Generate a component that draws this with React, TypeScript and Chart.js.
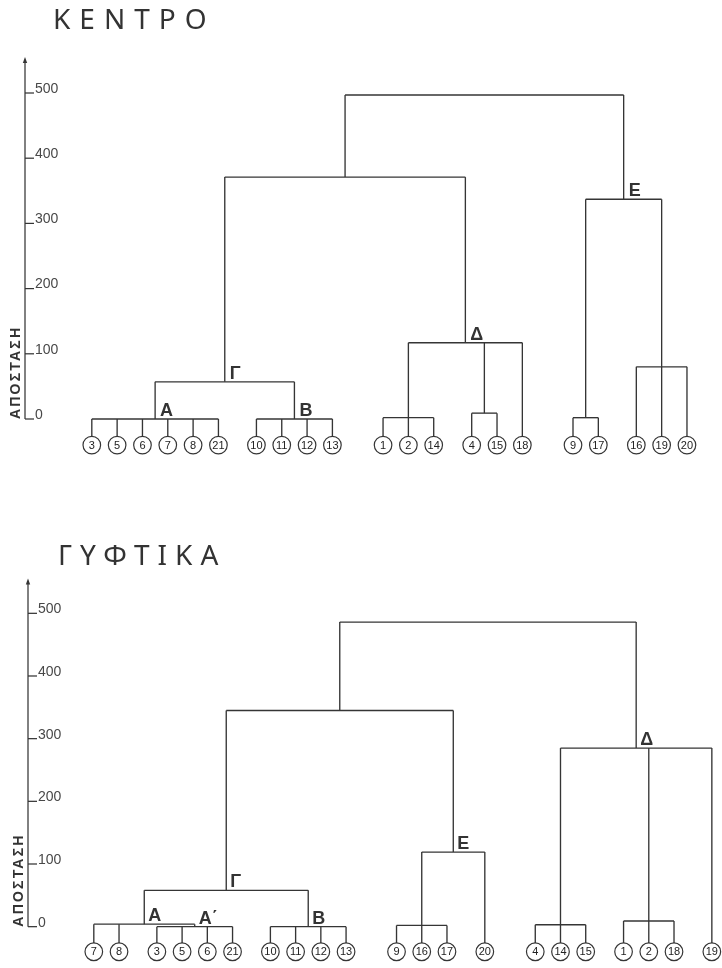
import React, { useEffect, useRef } from "react";
import { Chart, registerables } from "chart.js";

Chart.register(...registerables);

// ---------- data ----------
const Y_TICKS: number[] = [0, 100, 200, 300, 400, 500];
const AXIS_LABEL = "ΑΠΟΣΤΑΣΗ";

type Kid = number | string;

// ΚΕΝΤΡΟ
const KENTRO_TITLE = "ΚΕΝΤΡΟ";
const KENTRO_LEAVES: number[][][] = [
  [[3, 5, 6, 7, 8, 21], [10, 11, 12, 13]],
  [[1, 2, 14], [4, 15, 18]],
  [[9, 17], [16, 19, 20]],
];
const KENTRO_NODES: string[] = ["A", "B", "G", "D1", "D2", "D", "E1", "E2", "E", "GD", "ROOT"];
const KENTRO_LABELS: string[] = ["Α", "Β", "Γ", "", "", "Δ", "", "", "Ε", "", ""];
const KENTRO_HEIGHTS: number[] = [0, 0, 57, 2, 9, 117, 2, 80, 337, 371, 497];
const KENTRO_CHILDREN: Kid[][] = [
  [3, 5, 6, 7, 8, 21],
  [10, 11, 12, 13],
  ["A", "B"],
  [1, 2, 14],
  [4, 15],
  ["D1", "D2", 18],
  [9, 17],
  [16, 19, 20],
  ["E1", "E2"],
  ["G", "D"],
  ["GD", "E"],
];

// ΓΥΦΤΙΚΑ
const GYFTIKA_TITLE = "ΓΥΦΤΙΚΑ";
const GYFTIKA_LEAVES: number[][][] = [
  [[7, 8], [3, 5, 6, 21], [10, 11, 12, 13]],
  [[9, 16, 17], [20]],
  [[4, 14, 15], [1, 2, 18], [19]],
];
const GYFTIKA_NODES: string[] = ["A1", "A", "B", "G", "E1", "E", "GE", "D1", "D2", "D", "ROOT"];
const GYFTIKA_LABELS: string[] = ["Α΄", "Α", "Β", "Γ", "", "Ε", "", "", "", "Δ", ""];
const GYFTIKA_HEIGHTS: number[] = [0, 4, 0, 58, 2, 119, 345, 3, 9, 285, 486];
const GYFTIKA_CHILDREN: Kid[][] = [
  [3, 5, 6, 21],
  [7, 8, "A1"],
  [10, 11, 12, 13],
  ["A", "B"],
  [9, 16, 17],
  ["E1", 20],
  ["G", "E"],
  [4, 14, 15],
  [1, 2, 18],
  ["D1", "D2", 19],
  ["GE", "D"],
];

// ---------- layout (not data) ----------
const Y_MIN = -50;
const Y_MAX = 560;
const ARROW_TOP = 549;
const LEAF_Y = -40;
const LEAF_TOP = -27;
const GROUP_GAP = 0.5;
const CLUSTER_GAP = 1;
const PAD_RIGHT = 8;
const W = 722;
const LINE = "#353535";

interface Layout {
  canvasTop: number;
  canvasHeight: number;
  axisX: number;
  zeroY: number;
  pxPer100: number;
  leaf0X: number;
  leafStep: number;
  titleLeft: number;
  titleTop: number;
  letterSpacing: number;
  labelDx: number;
}

const KENTRO_LAYOUT: Layout = {
  canvasTop: 0, canvasHeight: 472, axisX: 25, zeroY: 419, pxPer100: 65.2,
  leaf0X: 92, leafStep: 25.4, titleLeft: 53, titleTop: 4, letterSpacing: 9, labelDx: 5,
};
const GYFTIKA_LAYOUT: Layout = {
  canvasTop: 476, canvasHeight: 492, axisX: 28, zeroY: 933, pxPer100: 63.8,
  leaf0X: 94, leafStep: 25.3, titleLeft: 58, titleTop: 540, letterSpacing: 8, labelDx: 4,
};

function makeChart(
  canvas: HTMLCanvasElement,
  L: Layout,
  leaves: number[][][],
  nodes: string[],
  labels: string[],
  heights: number[],
  children: Kid[][]
) {
  const leafX = new Map<number, number>();
  const leafOrder: number[] = [];
  let u = 0;
  let started = false;
  leaves.forEach((cluster) => {
    cluster.forEach((group, gi) => {
      group.forEach((leaf, li) => {
        if (started) {
          if (li === 0) u += 1 + (gi === 0 ? CLUSTER_GAP : GROUP_GAP);
          else u += 1;
        }
        started = true;
        leafX.set(leaf, u);
        leafOrder.push(leaf);
      });
    });
  });

  const idx = new Map<string, number>(nodes.map((n, i) => [n, i]));
  const nodeXCache = new Map<string, number>();
  const posOf = (k: Kid): { x: number; y: number } => {
    if (typeof k === "number") return { x: leafX.get(k) as number, y: LEAF_TOP };
    return { x: nodeX(k), y: heights[idx.get(k) as number] };
  };
  function nodeX(name: string): number {
    if (nodeXCache.has(name)) return nodeXCache.get(name) as number;
    const i = idx.get(name) as number;
    const xs = children[i].map((c) => posOf(c).x);
    const v = (Math.min(...xs) + Math.max(...xs)) / 2;
    nodeXCache.set(name, v);
    return v;
  }

  const segDatasets: any[] = [];
  const seg = (pts: { x: number; y: number }[]) =>
    segDatasets.push({
      data: pts,
      showLine: true,
      borderColor: LINE,
      borderWidth: 1.35,
      pointRadius: 0,
      fill: false,
      clip: false,
    });

  nodes.forEach((n, i) => {
    const h = heights[i];
    const kids = children[i].map(posOf);
    const xs = kids.map((k) => k.x);
    seg([{ x: Math.min(...xs), y: h }, { x: Math.max(...xs), y: h }]);
    kids.forEach((k) => {
      if (k.y !== h) seg([{ x: k.x, y: k.y }, { x: k.x, y: h }]);
    });
  });

  const leafDataset = {
    data: leafOrder.map((l) => ({ x: leafX.get(l) as number, y: LEAF_Y })),
    showLine: false,
    pointRadius: 8.8,
    pointBackgroundColor: "#ffffff",
    pointBorderColor: LINE,
    pointBorderWidth: 1.2,
    clip: false,
  };

  const ppu = L.pxPer100 / 100;
  const yTopPx = L.zeroY - Y_MAX * ppu;
  const yBotPx = L.zeroY - Y_MIN * ppu;
  const padTop = yTopPx - L.canvasTop;
  const padBottom = L.canvasTop + L.canvasHeight - yBotPx;
  const xMin = (L.axisX - L.leaf0X) / L.leafStep;
  const xMax = (W - PAD_RIGHT - L.leaf0X) / L.leafStep;

  const plugin = {
    id: "dendro",
    afterDatasetsDraw(chart: any) {
      const ctx: CanvasRenderingContext2D = chart.ctx;
      const xs = chart.scales.x;
      const ys = chart.scales.y;
      const ax = ys.right;
      ctx.save();
      ctx.strokeStyle = LINE;
      ctx.fillStyle = LINE;
      ctx.lineWidth = 1.25;
      ctx.beginPath();
      ctx.moveTo(ax, ys.getPixelForValue(0));
      ctx.lineTo(ax, ys.getPixelForValue(ARROW_TOP));
      ctx.stroke();
      const ty = ys.getPixelForValue(ARROW_TOP);
      ctx.beginPath();
      ctx.moveTo(ax, ty - 4);
      ctx.lineTo(ax - 2.2, ty + 2);
      ctx.lineTo(ax + 2.2, ty + 2);
      ctx.closePath();
      ctx.fill();
      Y_TICKS.forEach((v) => {
        const y = ys.getPixelForValue(v);
        ctx.beginPath();
        ctx.moveTo(ax, y);
        ctx.lineTo(ax + 9, y);
        ctx.stroke();
      });
      // axis title
      ctx.save();
      ctx.translate(ax - 5, ys.getPixelForValue(0));
      ctx.rotate(-Math.PI / 2);
      ctx.font = 'bold 14px "Liberation Sans"';
      (ctx as any).letterSpacing = "2.2px";
      ctx.textAlign = "left";
      ctx.textBaseline = "alphabetic";
      ctx.fillStyle = "#333";
      ctx.fillText(AXIS_LABEL, 0, 0);
      ctx.restore();

      // leaf numbers
      const meta = chart.getDatasetMeta(0);
      ctx.font = '11px "Liberation Sans"';
      ctx.textAlign = "center";
      ctx.textBaseline = "middle";
      ctx.fillStyle = "#222";
      meta.data.forEach((el: any, i: number) => {
        ctx.fillText(String(leafOrder[i]), el.x, el.y + 0.5, 13.5);
      });

      // node labels
      ctx.font = 'bold 18px "Liberation Sans"';
      ctx.textAlign = "left";
      ctx.textBaseline = "alphabetic";
      ctx.fillStyle = "#333";
      nodes.forEach((n, i) => {
        if (!labels[i]) return;
        const px = xs.getPixelForValue(nodeX(n)) + L.labelDx;
        const py = ys.getPixelForValue(heights[i]) - 3;
        ctx.fillText(labels[i], px, py);
      });
      ctx.restore();
    },
  };

  return new Chart(canvas, {
    type: "scatter",
    data: { datasets: [leafDataset, ...segDatasets] as any },
    options: {
      animation: false,
      responsive: false,
      maintainAspectRatio: false,
      events: [],
      layout: { padding: { left: L.axisX, right: PAD_RIGHT, top: padTop, bottom: padBottom } },
      plugins: {
        legend: { display: false },
        tooltip: { enabled: false },
        title: { display: false },
      },
      scales: {
        x: { type: "linear", display: false, min: xMin, max: xMax },
        y: {
          type: "linear",
          position: "left",
          min: Y_MIN,
          max: Y_MAX,
          grid: { display: false, drawTicks: false },
          border: { display: false },
          ticks: {
            mirror: true,
            padding: 10,
            labelOffset: -4,
            color: "#484848",
            font: { family: "Liberation Sans", size: 14 },
          },
          afterBuildTicks: (s: any) => {
            s.ticks = Y_TICKS.map((v) => ({ value: v }));
          },
          afterFit: (s: any) => {
            s.width = 0;
            s.paddingTop = 0;
            s.paddingBottom = 0;
          },
        } as any,
      },
    },
    plugins: [plugin],
  });
}

interface DProps {
  title: string;
  layout: Layout;
  leaves: number[][][];
  nodes: string[];
  labels: string[];
  heights: number[];
  children: Kid[][];
}

function Dendrogram(p: DProps) {
  const ref = useRef<HTMLCanvasElement>(null);
  useEffect(() => {
    if (!ref.current) return;
    const c = makeChart(ref.current, p.layout, p.leaves, p.nodes, p.labels, p.heights, p.children);
    return () => c.destroy();
  }, []);
  const L = p.layout;
  return (
    <>
      <canvas
        ref={ref}
        width={W}
        height={L.canvasHeight}
        style={{ position: "absolute", left: 0, top: L.canvasTop, width: W, height: L.canvasHeight, display: "block" }}
      />
      <div
        style={{
          position: "absolute",
          left: L.titleLeft,
          top: L.titleTop,
          fontFamily: '"Noto Sans", sans-serif',
          fontSize: 28,
          lineHeight: "28px",
          letterSpacing: L.letterSpacing,
          color: "#333",
          whiteSpace: "nowrap",
        }}
      >
        {p.title}
      </div>
    </>
  );
}

export default function App() {
  return (
    <div style={{ position: "absolute", left: 0, top: 0, width: W, height: 968, background: "#fff", overflow: "hidden" }}>
      <Dendrogram
        title={KENTRO_TITLE}
        layout={KENTRO_LAYOUT}
        leaves={KENTRO_LEAVES}
        nodes={KENTRO_NODES}
        labels={KENTRO_LABELS}
        heights={KENTRO_HEIGHTS}
        children={KENTRO_CHILDREN}
      />
      <Dendrogram
        title={GYFTIKA_TITLE}
        layout={GYFTIKA_LAYOUT}
        leaves={GYFTIKA_LEAVES}
        nodes={GYFTIKA_NODES}
        labels={GYFTIKA_LABELS}
        heights={GYFTIKA_HEIGHTS}
        children={GYFTIKA_CHILDREN}
      />
    </div>
  );
}
